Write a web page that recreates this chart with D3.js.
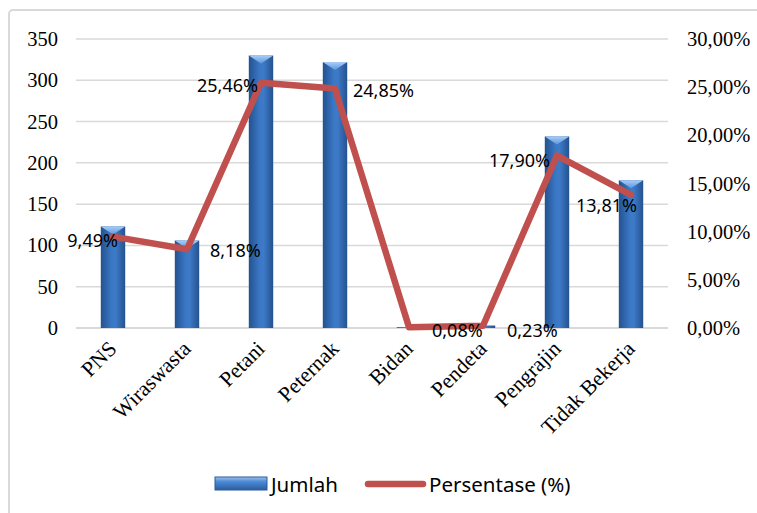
<!DOCTYPE html>
<html>
<head>
<meta charset="utf-8">
<script src="https://cdn.jsdelivr.net/npm/d3@7"></script>
<style>
  html, body { margin: 0; padding: 0; background: #fff; }
  svg { display: block; }
</style>
</head>
<body>
<svg id="chart" width="757" height="513"></svg>
<script>
// Occupations and their counts / shares
const categories = ["PNS", "Wiraswasta", "Petani", "Peternak", "Bidan", "Pendeta", "Pengrajin", "Tidak Bekerja"];
const jumlah = [123, 106, 330, 322, 1, 3, 232, 179];
const persentase = [9.49, 8.18, 25.46, 24.85, 0.08, 0.23, 17.90, 13.81];
const leftTicks = [0, 50, 100, 150, 200, 250, 300, 350];
const rightTicks = [0, 5, 10, 15, 20, 25, 30];
const seriesNames = ["Jumlah", "Persentase (%)"];

// where each percentage label sits relative to its point
const labelLayout = [
  { anchor: "end", dx: 5, dy: 3 },
  { anchor: "start", dx: 23, dy: 1 },
  { anchor: "end", dx: -3, dy: 2 },
  { anchor: "start", dx: 18, dy: 1 },
  { anchor: "start", dx: 23, dy: 3 },
  { anchor: "start", dx: 24, dy: 4 },
  { anchor: "end", dx: -7, dy: 4 },
  { anchor: "end", dx: 6, dy: 10 }
];

const svg = d3.select("#chart");
const plot = { left: 76, right: 668, top: 39, bottom: 328 };
const serif = "'Liberation Serif', 'Times New Roman', serif";
const sans = "'Noto Sans', 'Open Sans', sans-serif";

const x = d3.scaleBand().domain(categories).range([plot.left, plot.right]).padding(0);
const yL = d3.scaleLinear().domain([0, 350]).range([plot.bottom, plot.top]);
const yR = d3.scaleLinear().domain([0, 30]).range([plot.bottom, plot.top]);
const barW = x.bandwidth() * 0.33;
const cx = d => x(d) + x.bandwidth() / 2;
const fmtPct = v => d3.format(".2f")(v).replace(".", ",") + "%";

// gradients for the bevelled bars
const defs = svg.append("defs");
const bodyGrad = defs.append("linearGradient").attr("id", "barBody").attr("x1", 0).attr("x2", 1).attr("y1", 0).attr("y2", 0);
bodyGrad.append("stop").attr("offset", "0%").attr("stop-color", "#24528f");
bodyGrad.append("stop").attr("offset", "45%").attr("stop-color", "#3a78c6");
bodyGrad.append("stop").attr("offset", "60%").attr("stop-color", "#3d7bc9");
bodyGrad.append("stop").attr("offset", "100%").attr("stop-color", "#24528f");
const capGrad = defs.append("linearGradient").attr("id", "barTop").attr("x1", 0).attr("x2", 0).attr("y1", 0).attr("y2", 1);
capGrad.append("stop").attr("offset", "0%").attr("stop-color", "#a9cdf5");
capGrad.append("stop").attr("offset", "100%").attr("stop-color", "#5b97de");
const legGrad = defs.append("linearGradient").attr("id", "legBody").attr("x1", 0).attr("x2", 0).attr("y1", 0).attr("y2", 1);
legGrad.append("stop").attr("offset", "0%").attr("stop-color", "#9cc3f0");
legGrad.append("stop").attr("offset", "35%").attr("stop-color", "#4d8ad6");
legGrad.append("stop").attr("offset", "100%").attr("stop-color", "#2a5d9f");

// chart frame
svg.append("rect")
  .attr("x", 9).attr("y", 10).attr("width", 760).attr("height", 520)
  .attr("rx", 4)
  .attr("fill", "#fff").attr("stroke", "#d9d9d9").attr("stroke-width", 2);

// gridlines
svg.append("g").selectAll("line").data(leftTicks).join("line")
  .attr("x1", plot.left).attr("x2", plot.right)
  .attr("y1", d => yL(d)).attr("y2", d => yL(d))
  .attr("stroke", "#d9d9d9").attr("stroke-width", d => d === 0 ? 2 : 1.5);

// left axis
const axisL = svg.append("g").attr("transform", `translate(${plot.left},0)`)
  .call(d3.axisLeft(yL).tickValues(leftTicks).tickSize(0).tickPadding(18));
axisL.select(".domain").remove();
axisL.selectAll("text")
  .attr("font-family", serif).attr("font-size", 20.5).attr("fill", "#000");

// right axis
const axisR = svg.append("g").attr("transform", `translate(${plot.right},0)`)
  .call(d3.axisRight(yR).tickValues(rightTicks).tickSize(0).tickPadding(19)
    .tickFormat(d => d3.format(".2f")(d).replace(".", ",") + "%"));
axisR.select(".domain").remove();
axisR.selectAll("text")
  .attr("font-family", serif).attr("font-size", 20.5).attr("fill", "#000");

// category labels, rotated
svg.append("g").selectAll("text").data(categories).join("text")
  .attr("transform", d => `translate(${cx(d) + 5},${plot.bottom + 22}) rotate(-45)`)
  .attr("text-anchor", "end")
  .attr("font-family", serif).attr("font-size", 21.5).attr("fill", "#000")
  .text(d => d);

// bars
const bars = svg.append("g").selectAll("g").data(categories.map((c, i) => ({ c, v: jumlah[i] }))).join("g");
bars.append("rect")
  .attr("x", d => cx(d.c) - barW / 2).attr("width", barW)
  .attr("y", d => yL(d.v)).attr("height", d => yL(0) - yL(d.v))
  .attr("fill", "url(#barBody)");
bars.filter(d => yL(0) - yL(d.v) > 10).append("path")
  .attr("d", d => {
    const x0 = cx(d.c) - barW / 2, x1 = cx(d.c) + barW / 2, y0 = yL(d.v);
    return `M${x0},${y0}L${x1},${y0}L${cx(d.c)},${y0 + 8}Z`;
  })
  .attr("fill", "url(#barTop)");

// percentage line
const pts = categories.map((c, i) => ({ c, v: persentase[i] }));
svg.append("path").datum(pts)
  .attr("d", d3.line().x(d => cx(d.c)).y(d => yR(d.v)))
  .attr("fill", "none").attr("stroke", "#c0504d").attr("stroke-width", 6.5)
  .attr("stroke-linejoin", "round").attr("stroke-linecap", "round");

// percentage labels
svg.append("g").selectAll("text").data(pts).join("text")
  .attr("x", (d, i) => cx(d.c) + labelLayout[i].dx)
  .attr("y", (d, i) => yR(d.v) + labelLayout[i].dy)
  .attr("text-anchor", (d, i) => labelLayout[i].anchor)
  .attr("dominant-baseline", "central")
  .attr("font-family", sans).attr("font-size", 18).attr("fill", "#000")
  .text(d => fmtPct(d.v));

// legend
const lg = svg.append("g");
lg.append("rect").attr("x", 215).attr("y", 477).attr("width", 52).attr("height", 13)
  .attr("fill", "url(#legBody)").attr("stroke", "#2a5d9f").attr("stroke-width", 1);
lg.append("text").attr("x", 271).attr("y", 484).attr("dominant-baseline", "central")
  .attr("font-family", sans).attr("font-size", 20.5)
  .text(seriesNames[0]);
lg.append("line").attr("x1", 368).attr("x2", 423).attr("y1", 484).attr("y2", 484)
  .attr("stroke", "#c0504d").attr("stroke-width", 6.5).attr("stroke-linecap", "round");
lg.append("text").attr("x", 429).attr("y", 484).attr("dominant-baseline", "central")
  .attr("font-family", sans).attr("font-size", 20.5)
  .text(seriesNames[1]);
</script>
</body>
</html>
